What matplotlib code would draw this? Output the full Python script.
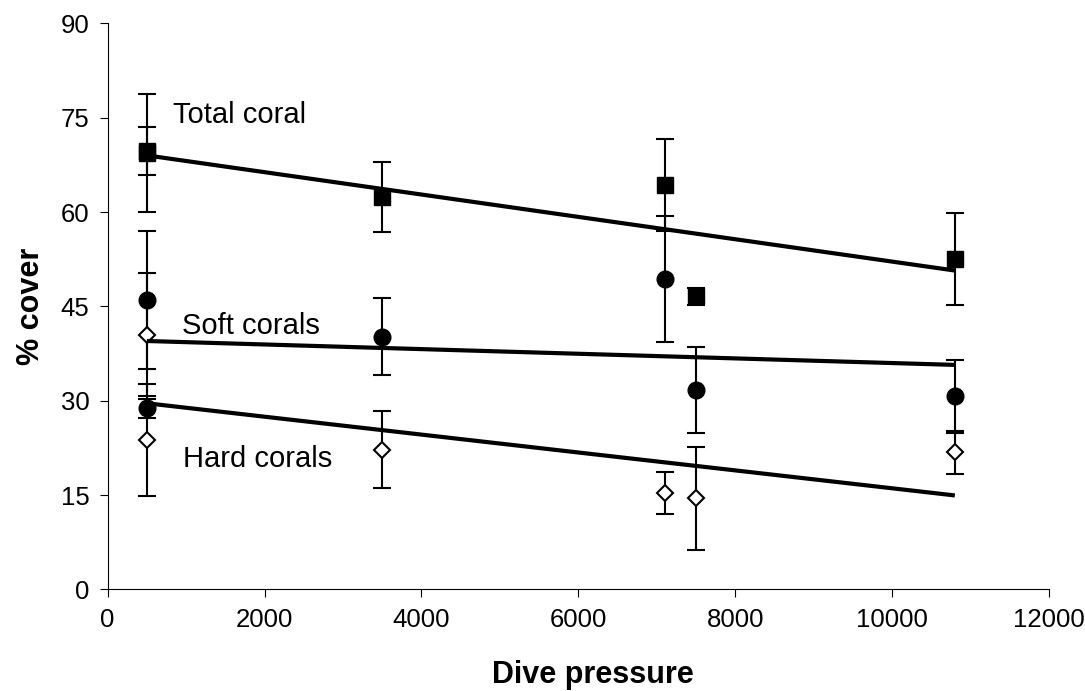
import matplotlib
matplotlib.use("Agg")
import matplotlib.pyplot as plt

plt.rcParams['font.family'] = ['Liberation Sans', 'DejaVu Sans']

# Dive pressure at each site (two sites share roughly the same pressure)
dive_pressure = [500, 500, 3500, 7100, 7500, 10800]

# Mean % cover and error for each group
total_cover = [69.4, 69.7, 62.4, 64.3, 46.6, 52.5]
total_err = [9.4, 3.75, 5.6, 7.3, 1.4, 7.3]

soft_cover = [46.0, 28.8, 40.2, 49.4, 31.7, 30.7]
soft_err = [11.0, 1.5, 6.1, 10.0, 6.9, 5.8]

hard_cover = [23.8, 40.5, 22.2, 15.3, 14.5, 21.8]
hard_err = [8.9, 9.8, 6.1, 3.3, 8.2, 3.4]

# Linear trend lines (value at first and last site)
trend_x = [500, 10800]
total_trend = [69.0, 50.7]
soft_trend = [39.5, 35.7]
hard_trend = [29.6, 14.95]

group_labels = ["Total coral", "Soft corals", "Hard corals"]
label_pos = [(830, 74.2), (945, 40.6), (957, 19.4)]

x_ticks = [0, 2000, 4000, 6000, 8000, 10000, 12000]
y_ticks = [0, 15, 30, 45, 60, 75, 90]

fig = plt.figure(figsize=(10.85, 6.91), dpi=100)
ax = fig.add_axes([0.0992, 0.1469, 0.8676, 0.8194])

err_kw = dict(fmt='none', ecolor='black', elinewidth=1.5, capsize=6.5,
              capthick=1.5, zorder=2)
ax.errorbar(dive_pressure, total_cover, yerr=total_err, **err_kw)
ax.errorbar(dive_pressure, soft_cover, yerr=soft_err, **err_kw)
ax.errorbar(dive_pressure, hard_cover, yerr=hard_err, **err_kw)

ax.plot(dive_pressure, total_cover, linestyle='none', marker='s',
        markersize=12, color='black', zorder=3)
ax.plot(dive_pressure, soft_cover, linestyle='none', marker='o',
        markersize=12, color='black', zorder=3)
ax.plot(dive_pressure, hard_cover, linestyle='none', marker='D',
        markersize=8.5, markerfacecolor='white', markeredgecolor='black',
        markeredgewidth=1.5, zorder=3)

for trend in (total_trend, soft_trend, hard_trend):
    ax.plot(trend_x, trend, color='black', linewidth=3, zorder=4,
            solid_capstyle='butt')

for text, (tx, ty) in zip(group_labels, label_pos):
    ax.text(tx, ty, text, fontsize=21, ha='left', va='baseline')

ax.set_xlim(0, 12000)
ax.set_ylim(0, 90)
ax.set_xticks(x_ticks)
ax.set_yticks(y_ticks)
ax.tick_params(axis='both', direction='out', length=5.5, width=0.8,
               labelsize=18.5, color='black', pad=7.5)

for side in ('top', 'right'):
    ax.spines[side].set_visible(False)
for side in ('left', 'bottom'):
    ax.spines[side].set_linewidth(0.8)
    ax.spines[side].set_color('black')

ax.set_xlabel("Dive pressure", fontsize=22, fontweight='bold')
ax.set_ylabel("% cover", fontsize=22, fontweight='bold')
ax.xaxis.set_label_coords(0.5156, -0.125)
ax.yaxis.set_label_coords(-0.066, 0.5)

fig.savefig("out.png", dpi=100)
